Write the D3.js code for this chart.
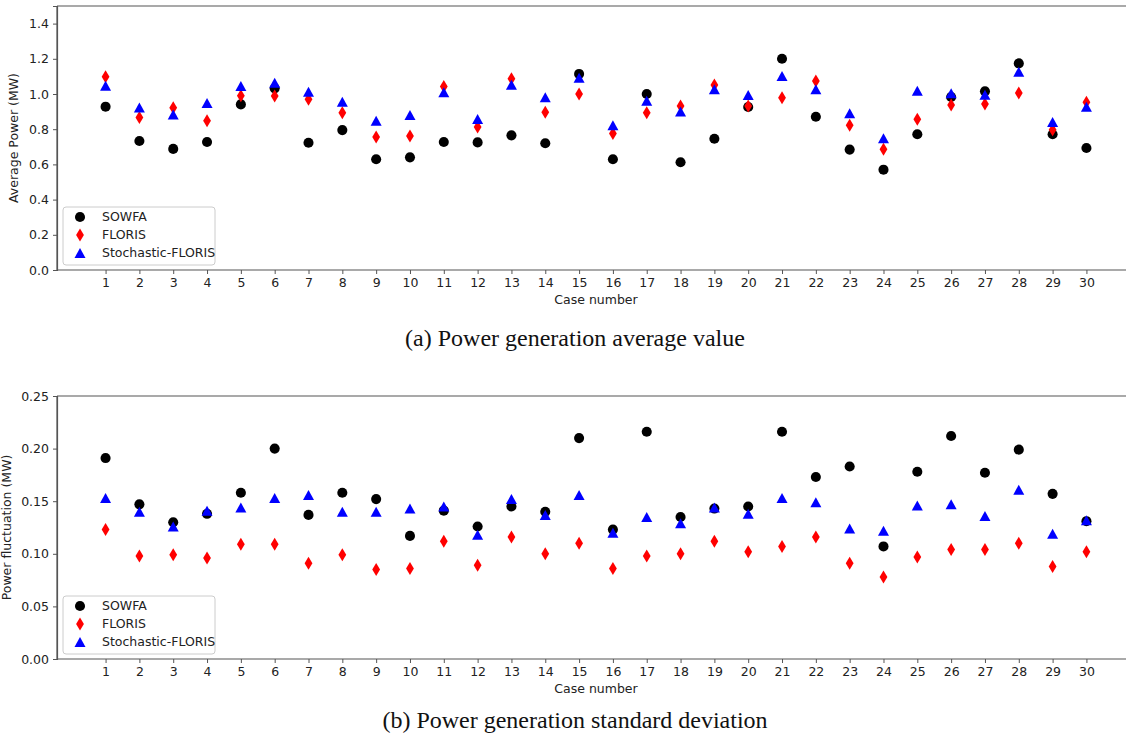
<!DOCTYPE html>
<html lang="en">
<head>
    <meta charset="UTF-8">
    <title>Power generation: SOWFA vs FLORIS vs Stochastic-FLORIS</title>
    <style>
        body { margin: 0; background: #fff; }
        svg { display: block; overflow: hidden; }
        .tick text, .lab { font-family: "DejaVu Sans", sans-serif; font-size: 12.5px; fill: #222; }
        .caption { font-family: "Liberation Serif", "Times New Roman", serif; font-size: 24px; fill: #111; }
    </style>
</head>
<body>
    <div id="chart"></div>
    <script src="https://d3js.org/d3.v7.min.js"></script>
    <script>

        // case numbers on the x axis
        var cases = d3.range(1, 31);

        // (a) average power, MW
        var avgSowfa  = [0.928, 0.733, 0.688, 0.727, 0.941, 1.032, 0.723, 0.795, 0.629, 0.640,
                         0.727, 0.725, 0.765, 0.720, 1.114, 0.629, 1.000, 0.612, 0.746, 0.926,
                         1.200, 0.871, 0.684, 0.570, 0.771, 0.983, 1.015, 1.174, 0.771, 0.693];
        var avgFloris = [1.098, 0.866, 0.922, 0.848, 0.990, 0.989, 0.970, 0.894, 0.756, 0.761,
                         1.042, 0.812, 1.087, 0.896, 1.000, 0.775, 0.894, 0.932, 1.051, 0.932,
                         0.979, 1.074, 0.822, 0.686, 0.856, 0.938, 0.943, 1.006, 0.797, 0.953];
        var avgStoch  = [1.047, 0.924, 0.884, 0.949, 1.045, 1.064, 1.013, 0.956, 0.848, 0.881,
                         1.010, 0.858, 1.053, 0.981, 1.093, 0.822, 0.962, 0.900, 1.027, 0.994,
                         1.102, 1.027, 0.890, 0.748, 1.019, 1.004, 0.996, 1.127, 0.841, 0.928];

        // (b) standard deviation, MW
        var stdSowfa  = [0.191, 0.147, 0.130, 0.138, 0.158, 0.200, 0.137, 0.158, 0.152, 0.117,
                         0.141, 0.126, 0.145, 0.140, 0.210, 0.123, 0.216, 0.135, 0.143, 0.145,
                         0.216, 0.173, 0.183, 0.107, 0.178, 0.212, 0.177, 0.199, 0.157, 0.131];
        var stdFloris = [0.123, 0.098, 0.099, 0.096, 0.109, 0.109, 0.091, 0.099, 0.085, 0.086,
                         0.112, 0.089, 0.116, 0.100, 0.110, 0.086, 0.098, 0.100, 0.112, 0.102,
                         0.107, 0.116, 0.091, 0.078, 0.097, 0.104, 0.104, 0.110, 0.088, 0.102];
        var stdStoch  = [0.153, 0.140, 0.126, 0.141, 0.144, 0.153, 0.156, 0.140, 0.140, 0.143,
                         0.145, 0.118, 0.152, 0.137, 0.156, 0.120, 0.135, 0.129, 0.144, 0.138,
                         0.153, 0.149, 0.124, 0.122, 0.146, 0.147, 0.136, 0.161, 0.119, 0.132];

        var avgTicks = [0, 0.2, 0.4, 0.6, 0.8, 1.0, 1.2, 1.4];
        var stdTicks = [0, 0.05, 0.10, 0.15, 0.20, 0.25];

        var seriesNames = ["SOWFA", "FLORIS", "Stochastic-FLORIS"];
        var colors = ["black", "red", "blue"];

        var W = 1126, H = 742;

        var svg = d3.select("#chart").append("svg")
            .attr("width", W)
            .attr("height", H);

        // x range runs past the right edge, the original figure is cropped there
        var x = d3.scaleLinear().domain([-0.436, 31.436]).range([57, 1135]);

        // marker shapes (matplotlib o, d, ^)
        function markerPath(kind) {
            if (kind == 0) return d3.symbol(d3.symbolCircle, 80)();
            if (kind == 1) return "M0,-6.5L3.9,0L0,6.5L-3.9,0Z";
            return "M0,-5L5.5,5L-5.5,5Z";
        }

        function drawPanel(top, bottom, yMax, ticks, fmt, series, yLabel, caption, captionY, legendTop) {
            var y = d3.scaleLinear().domain([0, yMax]).range([bottom, top]);
            var g = svg.append("g");

            // frame
            g.append("line").attr("x1", 57).attr("x2", 1135).attr("y1", top).attr("y2", top)
                .attr("stroke", "#555").attr("stroke-width", 1.2);
            g.append("line").attr("x1", 57).attr("x2", 57).attr("y1", top).attr("y2", bottom)
                .attr("stroke", "#555").attr("stroke-width", 1.2);

            var xAxis = g.append("g")
                .attr("transform", "translate(0," + bottom + ")")
                .call(d3.axisBottom(x).tickValues(cases).tickFormat(d3.format("d")).tickSize(4).tickPadding(4));
            var yAxis = g.append("g")
                .attr("transform", "translate(57,0)")
                .call(d3.axisLeft(y).tickValues(ticks).tickFormat(d3.format(fmt)).tickSize(4).tickPadding(4));
            [xAxis, yAxis].forEach(function(a) {
                a.select(".domain").attr("stroke", "#555").attr("stroke-width", 1.2);
                a.selectAll(".tick line").attr("stroke", "#555");
            });
            xAxis.select(".domain").attr("d", "M57,0H1135");

            g.append("text").attr("class", "lab")
                .attr("x", 596).attr("y", bottom + 34)
                .attr("text-anchor", "middle")
                .text("Case number");
            g.append("text").attr("class", "lab")
                .attr("transform", "translate(" + (yLabel.x) + "," + ((top + bottom) / 2) + ") rotate(-90)")
                .attr("text-anchor", "middle")
                .text(yLabel.text);

            // points, drawn in series order so triangles sit on top
            series.forEach(function(vals, k) {
                g.selectAll(".m" + k)
                    .data(vals)
                    .enter()
                    .append("path")
                    .attr("d", markerPath(k))
                    .attr("fill", colors[k])
                    .attr("transform", function(d, i) { return "translate(" + x(cases[i]) + "," + y(d) + ")"; });
            });

            // legend
            var lg = g.append("g").attr("transform", "translate(63," + legendTop + ")");
            lg.append("rect")
                .attr("width", 152).attr("height", 58)
                .attr("rx", 3)
                .attr("fill", "white").attr("fill-opacity", 0.8)
                .attr("stroke", "#ccc");
            seriesNames.forEach(function(name, k) {
                lg.append("path")
                    .attr("d", markerPath(k))
                    .attr("fill", colors[k])
                    .attr("transform", "translate(17," + (10 + k * 18) + ")");
                lg.append("text").attr("class", "lab")
                    .attr("x", 39).attr("y", 14 + k * 18)
                    .text(name);
            });

            svg.append("text").attr("class", "caption")
                .attr("x", 575).attr("y", captionY)
                .attr("text-anchor", "middle")
                .text(caption);
        }

        drawPanel(6, 270, 1.5, avgTicks, ".1f", [avgSowfa, avgFloris, avgStoch],
            {text: "Average Power (MW)", x: 18}, "(a) Power generation average value", 346, 207);

        drawPanel(396, 659, 0.25, stdTicks, ".2f", [stdSowfa, stdFloris, stdStoch],
            {text: "Power fluctuation (MW)", x: 11}, "(b) Power generation standard deviation", 728, 596);

    </script>
</body>
</html>
